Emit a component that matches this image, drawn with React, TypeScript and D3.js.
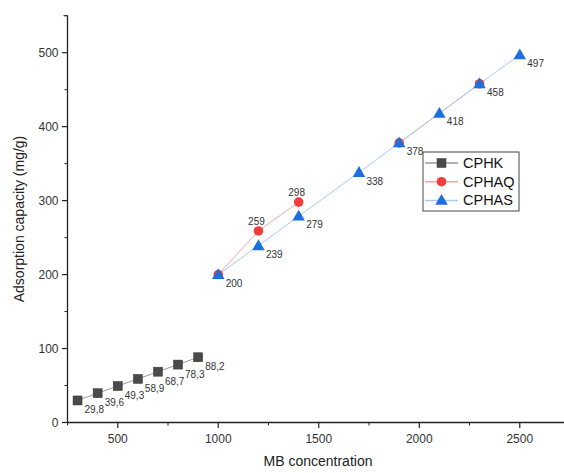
import React from "react";
import * as d3 from "d3";

// --- data ---
const cphkX = [300, 400, 500, 600, 700, 800, 900];
const cphkY = [29.8, 39.6, 49.3, 58.9, 68.7, 78.3, 88.2];
const cphkLabels = ["29,8", "39,6", "49,3", "58,9", "68,7", "78,3", "88,2"];

// null marks a break in the red line
const cphaqX = [1000, 1200, 1400, null, 1900, 2300];
const cphaqY = [200, 259, 298, null, 378, 458];

const cphasX = [1000, 1200, 1400, 1700, 1900, 2100, 2300, 2500];
const cphasY = [200, 239, 279, 338, 378, 418, 458, 497];

const xTicks = [500, 1000, 1500, 2000, 2500];
const xMinor = [250, 750, 1250, 1750, 2250];
const yTicks = [0, 100, 200, 300, 400, 500];
const yMinor = [50, 150, 250, 350, 450, 550];

const W = 564;
const H = 473;
const FONT = "Arial, 'Liberation Sans', sans-serif";

const GREY = "#4a4a4a";
const RED = "#f23b3b";
const BLUE = "#1c6fde";

export default function App() {
  const x = d3.scaleLinear().domain([250, 2720]).range([67.5, 564]);
  const y = d3.scaleLinear().domain([0, 550]).range([422.5, 15.7]);

  const pts = (xs: (number | null)[], ys: (number | null)[]) =>
    xs.map((v, i) => ({ x: v, y: ys[i] }));

  const line = d3
    .line<{ x: number | null; y: number | null }>()
    .defined((d) => d.x != null && d.y != null)
    .x((d) => x(d.x as number))
    .y((d) => y(d.y as number));

  const tri = d3.symbol().type(d3.symbolTriangle).size(68)();

  const k = pts(cphkX, cphkY);
  const q = pts(cphaqX, cphaqY);
  const s = pts(cphasX, cphasY);

  const legend = [
    { name: "CPHK", line: "#9a9a9a", kind: "sq" },
    { name: "CPHAQ", line: "#f5a5a5", kind: "ci" },
    { name: "CPHAS", line: "#a9c8f2", kind: "tr" },
  ];

  const marker = (kind: string, cx: number, cy: number, key?: any) => {
    if (kind === "sq")
      return <rect key={key} x={cx - 4.5} y={cy - 4.5} width={9} height={9} fill={GREY} stroke="#333" strokeWidth={0.5} />;
    if (kind === "ci") return <circle key={key} cx={cx} cy={cy} r={4.8} fill={RED} />;
    return <path key={key} d={tri as string} transform={`translate(${cx},${cy + 0.8})`} fill={BLUE} />;
  };

  const x0 = x.range()[0];
  const y0 = y.range()[0];

  return (
    <div style={{ position: "absolute", left: 0, top: 0 }}>
      <svg width={W} height={H} style={{ display: "block", background: "#fff", fontFamily: FONT }}>
        {/* axes */}
        <line x1={x0} x2={W} y1={y0} y2={y0} stroke="#222" strokeWidth={1.3} />
        <line x1={x0} x2={x0} y1={y.range()[1]} y2={y0} stroke="#222" strokeWidth={1.3} />
        <line x1={x0 - 4} x2={x0} y1={y.range()[1]} y2={y.range()[1]} stroke="#222" strokeWidth={1} />

        {xTicks.map((t) => (
          <g key={"xt" + t}>
            <line x1={x(t)} x2={x(t)} y1={y0} y2={y0 + 5.5} stroke="#222" strokeWidth={1.2} />
            <text x={x(t)} y={y0 + 20} textAnchor="middle" fontSize={12} fill="#333">{t}</text>
          </g>
        ))}
        {xMinor.map((t) => (
          <line key={"xm" + t} x1={x(t)} x2={x(t)} y1={y0} y2={y0 + 3} stroke="#222" strokeWidth={1} />
        ))}
        {yTicks.map((t) => (
          <g key={"yt" + t}>
            <line x1={x0 - 5.5} x2={x0} y1={y(t)} y2={y(t)} stroke="#222" strokeWidth={1.2} />
            <text x={x0 - 9} y={y(t) + 4.3} textAnchor="end" fontSize={12} fill="#333">{t}</text>
          </g>
        ))}
        {yMinor.map((t) => (
          <line key={"ym" + t} x1={x0 - 3} x2={x0} y1={y(t)} y2={y(t)} stroke="#222" strokeWidth={1} />
        ))}

        <text x={318} y={466} textAnchor="middle" fontSize={14} fill="#222">MB concentration</text>
        <text transform={`translate(24,219) rotate(-90)`} textAnchor="middle" fontSize={14} fill="#222">
          Adsorption capacity (mg/g)
        </text>

        {/* lines */}
        <path d={line(k) as string} fill="none" stroke="#9a9a9a" strokeWidth={1} />
        <path d={line(q) as string} fill="none" stroke="#f5a5a5" strokeWidth={1} />
        <path d={line(s) as string} fill="none" stroke="#a9c8f2" strokeWidth={1} />

        {/* markers */}
        {k.map((d, i) => marker("sq", x(d.x as number), y(d.y as number), "k" + i))}
        {q.filter((d) => d.x != null).map((d, i) => marker("ci", x(d.x as number), y(d.y as number), "q" + i))}
        {s.map((d, i) => marker("tr", x(d.x as number), y(d.y as number), "s" + i))}

        {/* value labels */}
        {k.map((d, i) => (
          <text key={"kl" + i} x={x(d.x as number) + 7} y={y(d.y as number) + 13} fontSize={10} fill="#333">
            {cphkLabels[i]}
          </text>
        ))}
        {s.map((d, i) => (
          <text key={"sl" + i} x={x(d.x as number) + 7.5} y={y(d.y as number) + 12} fontSize={10} fill="#333">
            {d.y}
          </text>
        ))}
        {q.slice(1, 3).map((d, i) => (
          <text key={"ql" + i} x={x(d.x as number) - 2} y={y(d.y as number) - 6} textAnchor="middle" fontSize={10} fill="#333">
            {d.y}
          </text>
        ))}

        {/* legend */}
        <rect x={423} y={152} width={96} height={59} fill="#fff" stroke="#444" strokeWidth={1} />
        {legend.map((l, i) => {
          const cy = 163 + i * 18.7;
          return (
            <g key={l.name}>
              <line x1={425} x2={458} y1={cy} y2={cy} stroke={l.line} strokeWidth={1.5} />
              {marker(l.kind, 441.5, cy)}
              <text x={463} y={cy + 5} fontSize={14.5} fill="#111">{l.name}</text>
            </g>
          );
        })}
      </svg>
    </div>
  );
}
